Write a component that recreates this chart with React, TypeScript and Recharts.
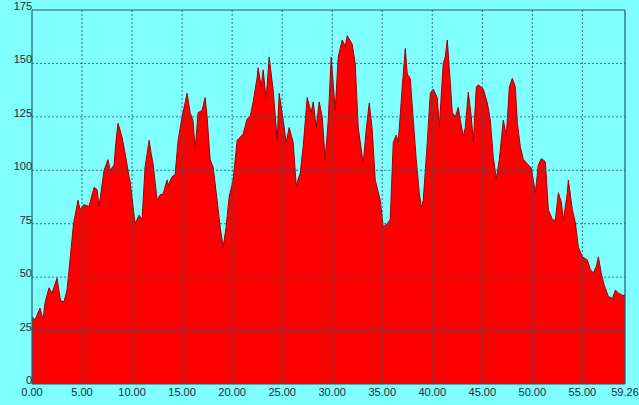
import React from "react";
import { AreaChart, Area, XAxis, YAxis, ReferenceLine } from "recharts";

const distances: number[] = [
  0, 0.3, 0.8, 1.1, 1.3, 1.7, 2.0, 2.5, 2.85, 3.2, 3.5, 3.8, 4.15, 4.6, 4.8, 5.2, 5.7, 6.2, 6.5, 6.7,
  7.2, 7.6, 7.8, 8.2, 8.4, 8.6, 9.0, 9.3, 9.7, 9.8, 10.3, 10.7, 11.0, 11.3, 11.7, 11.9, 12.1, 12.5, 12.8, 13.1,
  13.5, 13.6, 14.0, 14.3, 14.6, 15.0, 15.3, 15.5, 15.8, 16.1, 16.3, 16.6, 17.0, 17.3, 17.5, 17.8, 18.1, 18.5, 18.8, 19.1,
  19.4, 19.7, 20.1, 20.5, 20.8, 21.1, 21.5, 21.8, 22.1, 22.5, 22.6, 22.9, 23.1, 23.4, 23.7, 24.1, 24.5, 24.7, 25.1, 25.4,
  25.7, 26.1, 26.4, 26.8, 27.1, 27.5, 27.9, 28.1, 28.4, 28.7, 29.0, 29.3, 29.6, 29.9, 30.3, 30.6, 31.0, 31.3, 31.5, 32.0,
  32.3, 32.6, 33.1, 33.4, 33.7, 34.0, 34.3, 34.8, 35.1, 35.5, 35.8, 36.1, 36.4, 36.6, 37.0, 37.3, 37.5, 37.8, 38.1, 38.4,
  38.7, 38.9, 39.1, 39.5, 39.8, 40.1, 40.5, 40.7, 41.1, 41.3, 41.5, 41.7, 42.0, 42.3, 42.6, 42.8, 43.1, 43.3, 43.6, 43.9,
  44.1, 44.4, 44.6, 45.1, 45.5, 45.8, 46.1, 46.4, 46.7, 47.1, 47.4, 47.7, 48.0, 48.3, 48.5, 48.8, 49.1, 49.5, 49.9, 50.3,
  50.6, 50.9, 51.3, 51.6, 52.0, 52.3, 52.6, 52.9, 53.1, 53.5, 53.6, 54.0, 54.3, 54.6, 55.0, 55.5, 55.8, 56.1, 56.4, 56.6,
  56.9, 57.2, 57.6, 58.0, 58.3, 58.6, 59.0, 59.26,
];

const elevations: number[] = [
  31.5, 30, 35.5, 30, 38, 45, 42.5, 49.5, 39, 38.5, 44, 58, 75, 86, 81.5, 84, 83, 92, 91, 83,
  100, 105, 100, 102.5, 114, 122, 115.5, 108, 97, 95, 75, 79, 77, 101.5, 114, 108, 103, 86, 88.5, 89,
  95.5, 93, 97, 98, 114, 125, 131.5, 136, 127, 123, 109.5, 127, 128, 134, 125, 105, 101.5, 86, 73.5, 64,
  73.5, 87.5, 95.5, 114, 115.5, 117, 124, 125, 132, 143.5, 148, 139, 147, 133, 153, 137.5, 114, 136, 123.5, 113,
  120, 113, 93, 98.5, 111, 134, 127, 132, 120, 132, 125, 105, 123, 153, 128, 153, 161, 158, 163, 159,
  150, 120, 103, 119, 131.5, 119, 95.5, 86, 73.5, 75, 77, 113, 116.5, 113, 139, 157, 145, 143, 123.5, 105,
  89.5, 82.5, 86, 113, 136, 138, 134, 120, 150, 153, 161, 148, 127, 125, 129.5, 123.5, 116, 120, 136.5, 125,
  113, 139, 140, 138, 131.5, 123.5, 106, 96, 105, 123.5, 116, 139, 143, 139, 122, 111, 105, 103, 101, 89.5,
  102.5, 105.5, 104, 81.5, 77, 76.5, 89.5, 85, 76.5, 89.5, 95.5, 81.5, 75.5, 64, 59.5, 58, 53.5, 52, 55, 59.5,
  51.5, 46, 41, 40, 44, 42.5, 41.5, 41.5,
];

const xTicks: number[] = [0, 5, 10, 15, 20, 25, 30, 35, 40, 45, 50, 55, 59.26];
const yTicks: number[] = [0, 25, 50, 75, 100, 125, 150, 175];
const xGrid: number[] = [5, 10, 15, 20, 25, 30, 35, 40, 45, 50, 55];
const yGrid: number[] = [25, 50, 75, 100, 125, 150];

const data = distances.map((d, i) => ({ d, v: elevations[i] }));

const FONT = "'Liberation Sans', Arial, sans-serif";
const TEXT = "#1c2a3a";
const GRID = "#1e5a78";

const XTick = (props: any) => {
  const { x, y, payload } = props;
  return (
    <text x={x} y={y + 12} textAnchor="middle" fontFamily={FONT} fontSize={11} fill={TEXT}>
      {Number(payload.value).toFixed(2)}
    </text>
  );
};

const YTick = (props: any) => {
  const { x, y, payload } = props;
  return (
    <text x={x} y={y} textAnchor="end" fontFamily={FONT} fontSize={11} fill={TEXT}>
      {payload.value}
    </text>
  );
};

export default function App() {
  return (
    <div style={{ position: "absolute", left: 0, top: 0, width: 639, height: 405, background: "#80ffff" }}>
      <AreaChart width={639} height={405} data={data} margin={{ top: 10, right: 14, left: 0, bottom: 0 }}>
        <XAxis
          dataKey="d"
          type="number"
          domain={[0, 59.26]}
          ticks={xTicks}
          interval={0}
          height={21}
          tickSize={0}
          tickMargin={0}
          axisLine={false}
          tickLine={false}
          tick={<XTick />}
          allowDataOverflow
        />
        <YAxis
          type="number"
          domain={[0, 175]}
          ticks={yTicks}
          interval={0}
          width={32}
          tickSize={0}
          tickMargin={0}
          axisLine={false}
          tickLine={false}
          tick={<YTick />}
          allowDataOverflow
        />
        <Area
          type="linear"
          dataKey="v"
          fill="#ff0000"
          fillOpacity={1}
          stroke="#a00000"
          strokeWidth={1}
          isAnimationActive={false}
          dot={false}
          activeDot={false}
        />
        {xGrid.map((g) => (
          <ReferenceLine key={"x" + g} x={g} stroke={GRID} strokeDasharray="2 2" strokeOpacity={0.85} />
        ))}
        {yGrid.map((g) => (
          <ReferenceLine key={"y" + g} y={g} stroke={GRID} strokeDasharray="2 2" strokeOpacity={0.85} />
        ))}
        <ReferenceLine x={0} stroke={GRID} strokeWidth={1.2} />
        <ReferenceLine x={59.26} stroke={GRID} strokeWidth={1.2} />
        <ReferenceLine y={0} stroke={GRID} strokeWidth={1.2} />
        <ReferenceLine y={175} stroke={GRID} strokeWidth={1.2} />
      </AreaChart>
    </div>
  );
}
